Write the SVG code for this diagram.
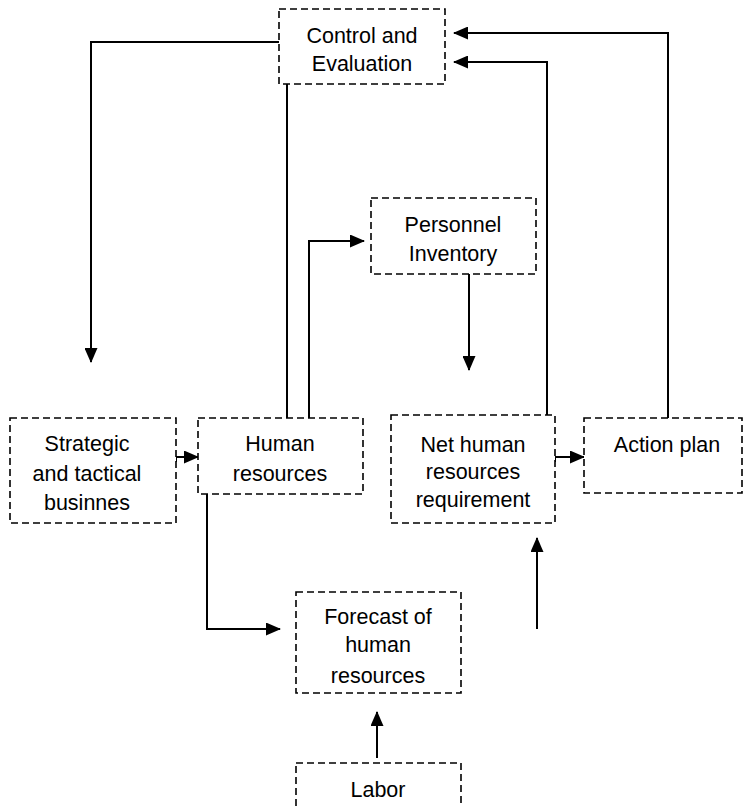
<svg xmlns="http://www.w3.org/2000/svg" width="746" height="807" viewBox="0 0 746 807">
<defs>
<marker id="ah" markerUnits="userSpaceOnUse" markerWidth="15" markerHeight="13" refX="14" refY="6.5" orient="auto">
<path d="M0,0 L15,6.5 L0,13 Z" fill="#000"/>
</marker>
<style>
.box{fill:#fff;stroke:#000;stroke-width:1.6;stroke-dasharray:7,4}
.t{font-family:"Liberation Sans",Arial,sans-serif;font-size:21.5px;fill:#000;text-anchor:middle}
.c{fill:none;stroke:#000;stroke-width:2}
</style>
</defs>
<rect width="746" height="807" fill="#fff"/>
<g id="connectors">
<polyline class="c" points="279,42 91,42 91,362" marker-end="url(#ah)"/>
<line class="c" x1="287" y1="84" x2="287" y2="418"/>
<polyline class="c" points="309,418 309,241 364,241" marker-end="url(#ah)"/>
<line class="c" x1="469" y1="274" x2="469" y2="370" marker-end="url(#ah)"/>
<polyline class="c" points="547,415 547,62 454,62" marker-end="url(#ah)"/>
<polyline class="c" points="668,418 668,33 454,33" marker-end="url(#ah)"/>
<polyline class="c" points="176,462 176,457 198,457" marker-end="url(#ah)"/>
<polyline class="c" points="555,462 555,457 584,457" marker-end="url(#ah)"/>
<polyline class="c" points="207,494 207,629 280,629" marker-end="url(#ah)"/>
<line class="c" x1="537" y1="629" x2="537" y2="538" marker-end="url(#ah)"/>
<line class="c" x1="377" y1="758" x2="377" y2="712" marker-end="url(#ah)"/>
</g>
<g id="control">
<rect class="box" x="279" y="9" width="166" height="75"/>
<text class="t" x="362" y="43">Control and</text>
<text class="t" x="362" y="71">Evaluation</text>
</g>
<g id="personnel">
<rect class="box" x="371" y="198" width="165" height="76"/>
<text class="t" x="453" y="232">Personnel</text>
<text class="t" x="453" y="261">Inventory</text>
</g>
<g id="strategic">
<rect class="box" x="10" y="418" width="166" height="105"/>
<text class="t" x="87" y="451">Strategic</text>
<text class="t" x="87" y="481">and tactical</text>
<text class="t" x="87" y="510">businnes</text>
</g>
<g id="human">
<rect class="box" x="198" y="418" width="165" height="76"/>
<text class="t" x="280" y="451">Human</text>
<text class="t" x="280" y="481">resources</text>
</g>
<g id="net">
<rect class="box" x="391" y="415" width="164" height="108"/>
<text class="t" x="473" y="452">Net human</text>
<text class="t" x="473" y="479">resources</text>
<text class="t" x="473" y="507">requirement</text>
</g>
<g id="action">
<rect class="box" x="584" y="418" width="158" height="75"/>
<text class="t" x="667" y="452">Action plan</text>
</g>
<g id="forecast">
<rect class="box" x="296" y="592" width="165" height="101"/>
<text class="t" x="378" y="624">Forecast of</text>
<text class="t" x="378" y="652">human</text>
<text class="t" x="378" y="683">resources</text>
</g>
<g id="labor">
<rect class="box" x="296" y="763" width="165" height="60"/>
<text class="t" x="378" y="797">Labor</text>
</g>
</svg>
